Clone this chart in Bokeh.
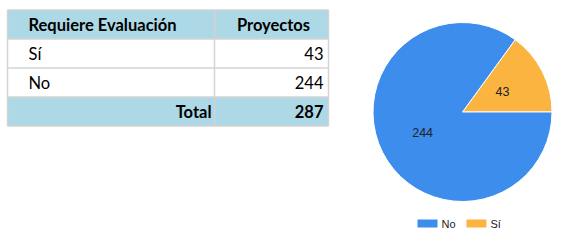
import math
from bokeh.plotting import figure
from bokeh.models import Range1d, ColumnDataSource
from bokeh.core.properties import value
from bokeh.embed import file_html
from bokeh.resources import INLINE

# ---- data ----
header = ["Requiere Evaluación", "Proyectos"]
categories = ["Sí", "No"]
projects = [43, 244]
total_label = "Total"
total = sum(projects)

pie_labels = ["Sí", "No"]
pie_values = [43, 244]
pie_colors = ["#fbb440", "#3d8dec"]
legend_order = ["No", "Sí"]

W, H = 564, 250
p = figure(width=W, height=H, x_range=Range1d(0, W), y_range=Range1d(0, H),
           output_backend="svg", toolbar_location=None,
           x_axis_type=None, y_axis_type=None, min_border=0)
p.grid.visible = False
p.outline_line_color = None
p.background_fill_color = "white"

def Y(py):
    return H - py

FONT = value("Lato")
FS = "16.5px"

# ---- table ----
tx0, tx1, tx2 = 7, 214, 328
row_h = 29
ty0 = 9.5
nrows = 2 + len(categories)
row_tops = [ty0 + i * row_h for i in range(nrows)]
fills = ["#add8e6"] + ["#ffffff"] * len(categories) + ["#add8e6"]
p.quad(left=[tx0] * nrows, right=[tx2] * nrows,
       top=[Y(t) for t in row_tops], bottom=[Y(t + row_h) for t in row_tops],
       fill_color=fills, line_color=None)
# grid lines
hx0, hx1, hy0, hy1 = [], [], [], []
for i in range(nrows + 1):
    yy = Y(ty0 + i * row_h)
    hx0.append(tx0); hx1.append(tx2); hy0.append(yy); hy1.append(yy)
for xx in (tx0, tx1, tx2):
    hx0.append(xx); hx1.append(xx); hy0.append(Y(ty0)); hy1.append(Y(ty0 + nrows * row_h))
p.segment(x0=hx0, y0=hy0, x1=hx1, y1=hy1, line_color="#d3d3d3", line_width=1.5)

def ymid(i):
    return Y(row_tops[i] + row_h / 2)

# header
p.text(x=[28], y=[ymid(0)], text=[header[0]], text_font=FONT, text_font_style="bold",
       text_font_size=FS, text_baseline="middle", text_align="left", text_color="#000")
p.text(x=[(tx1 + tx2) / 2 + 2], y=[ymid(0)], text=[header[1]], text_font=FONT, text_font_style="bold",
       text_font_size=FS, text_baseline="middle", text_align="center", text_color="#000")
# body
p.text(x=[28] * len(categories), y=[ymid(i + 1) for i in range(len(categories))],
       text=categories, text_font=FONT, text_font_size=FS,
       text_baseline="middle", text_align="left", text_color="#000")
p.text(x=[323] * len(projects), y=[ymid(i + 1) for i in range(len(projects))],
       text=[str(v) for v in projects], text_font=FONT, text_font_size=FS,
       text_baseline="middle", text_align="right", text_color="#000")
# total
p.text(x=[211], y=[ymid(nrows - 1)], text=[total_label], text_font=FONT, text_font_style="bold",
       text_font_size=FS, text_baseline="middle", text_align="right", text_color="#000")
p.text(x=[323], y=[ymid(nrows - 1)], text=[str(total)], text_font=FONT, text_font_style="bold",
       text_font_size=FS, text_baseline="middle", text_align="right", text_color="#000")

# ---- pie ----
cx, cy, r = 462, Y(111.5), 89.5
tot = sum(pie_values)
starts, ends, acc = [], [], 0.0
for v in pie_values:
    starts.append(2 * math.pi * acc / tot)
    acc += v
    ends.append(2 * math.pi * acc / tot)
src = ColumnDataSource(dict(start=starts, end=ends, color=pie_colors))
p.wedge(x=cx, y=cy, radius=r, start_angle="start", end_angle="end",
        fill_color="color", line_color="white", line_width=1, source=src)
mids = [(s + e) / 2 for s, e in zip(starts, ends)]
p.text(x=[cx + 0.5 * r * math.cos(m) for m in mids], y=[cy + 0.5 * r * math.sin(m) for m in mids],
       text=[str(v) for v in pie_values], text_font=value("Arial"), text_font_size="12.5px",
       text_align="center", text_baseline="middle", text_color="#222")

# ---- legend ----
lx = [417, 466]
ly = Y(223)
col_of = dict(zip(pie_labels, pie_colors))
p.quad(left=lx, right=[x + 20 for x in lx], top=[ly + 4] * 2, bottom=[ly - 4] * 2,
       fill_color=[col_of[l] for l in legend_order], line_color=None)
p.text(x=[x + 24 for x in lx], y=[ly] * 2, text=legend_order, text_font=value("Arial"),
       text_font_size="11px", text_align="left", text_baseline="middle", text_color="#222")

open("out.html", "w").write(file_html(p, INLINE))
